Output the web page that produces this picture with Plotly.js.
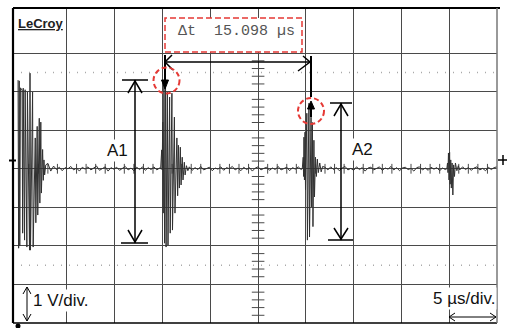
<!DOCTYPE html>
<html><head><meta charset="utf-8">
<script src="https://cdn.plot.ly/plotly-3.0.1.min.js"></script>
<style>html,body{margin:0;padding:0;background:#fff;overflow:hidden}#chart{width:509px;height:328px}</style>
</head><body><div id="chart"></div>
<script>
// ---- data (time in µs, amplitude in V) ----
const burst1T = [-0.12,-0.06,0.00,0.06,0.13,0.30,0.36,0.42,0.56,0.62,0.80,0.86,1.08,1.13,1.18,1.40,1.46,1.68,1.74,1.88,1.94,2.10,2.16,2.26,2.32,2.45,2.52,2.59,2.66,2.78];
const burst1V = [2.30,-2.06,2.28,-2.00,2.10,2.04,-1.67,2.09,-1.85,2.05,-2.03,1.99,-2.11,2.48,-2.11,1.99,-2.03,0.80,-1.40,1.10,-1.20,1.31,-0.89,1.21,-0.63,0.50,-0.30,0.23,-0.16,0.10];
const noise1T = [3.0,3.3,3.6,3.9,4.2,4.5,4.8,5.1,5.4,5.7,6.0,6.3,6.6,6.9,7.2,7.5,7.8,8.1,8.4,8.7,9.0,9.3,9.6,9.9,10.2,10.5,10.8,11.1,11.4,11.7,12.0,12.3,12.6,12.9,13.2,13.5,13.8,14.1,14.4,14.7];
const noise1V = [0.14,-0.06,0.07,-0.02,0.04,-0.05,0.03,0.00,0.06,-0.03,0.02,-0.06,0.04,-0.01,0.05,-0.03,0.02,0.07,-0.04,0.01,0.05,-0.06,0.03,-0.01,0.04,-0.04,0.02,0.06,-0.03,0.02,-0.05,0.04,-0.02,0.05,-0.04,0.03,-0.02,0.05,-0.03,0.02];
const burst2T = [14.80,14.91,14.96,15.02,15.07,15.15,15.21,15.31,15.37,15.50,15.57,15.74,15.80,15.98,16.04,16.24,16.30,16.50,16.58,16.66,16.76,16.86,16.94,17.06,17.14,17.28,17.36,17.50,17.65];
const burst2V = [0.00,0.49,-0.03,1.21,-1.15,2.22,-1.93,2.30,-2.03,1.99,-1.98,1.86,-1.67,1.96,-1.59,1.34,-1.15,0.80,-0.70,0.61,-0.50,0.56,-0.42,0.30,-0.29,0.17,-0.16,0.08,-0.05];
const noise2T = [17.8,18.1,18.4,18.7,19.0,19.3,19.6,19.9,20.2,20.5,20.8,21.1,21.4,21.7,22.0,22.3,22.6,22.9,23.2,23.5,23.8,24.1,24.4,24.7,25.0,25.3,25.6,25.9,26.2,26.5,26.8,27.1,27.4,27.7,28.0,28.3,28.6,28.9,29.2,29.5];
const noise2V = [0.05,-0.04,0.03,-0.02,0.06,-0.03,0.01,0.04,-0.05,0.02,-0.01,0.05,-0.04,0.03,0.00,0.06,-0.03,0.02,-0.05,0.04,-0.02,0.03,-0.06,0.02,0.05,-0.03,0.01,0.04,-0.04,0.02,-0.02,0.06,-0.03,0.01,0.04,-0.05,0.03,-0.01,0.05,-0.02];
const burst3T = [29.62,29.72,29.76,29.80,29.85,29.91,29.96,30.10,30.16,30.32,30.38,30.54,30.60,30.68,30.74,30.84,30.90,31.00,31.10,31.20,31.30,31.45,31.60,31.75];
const burst3V = [0.00,0.30,-0.20,0.82,-0.29,0.95,-0.55,1.44,-1.85,1.70,-1.77,1.34,-0.99,1.20,-1.50,0.74,-0.73,0.30,-0.20,0.25,-0.10,0.15,-0.08,0.06];
const noise3T = [32.0,32.3,32.6,32.9,33.2,33.5,33.8,34.1,34.4,34.7,35.0,35.3,35.6,35.9,36.2,36.5,36.8,37.1,37.4,37.7,38.0,38.3,38.6,38.9,39.2,39.5,39.8,40.1,40.4,40.7,41.0,41.3,41.6,41.9,42.2,42.5,42.8,43.1,43.4,43.7,44.0,44.3,44.6];
const noise3V = [0.04,-0.03,0.05,-0.02,0.03,-0.05,0.02,0.06,-0.03,0.01,-0.04,0.05,-0.02,0.03,-0.06,0.02,0.04,-0.03,0.01,0.05,-0.04,0.02,-0.01,0.06,-0.03,0.03,-0.05,0.02,0.04,-0.02,0.01,-0.06,0.03,0.05,-0.03,0.02,-0.04,0.04,-0.01,0.03,-0.05,0.02,-0.02];
const burst4T = [44.75,44.82,44.87,44.92,44.98,45.04,45.10,45.16,45.22,45.30,45.38,45.46,45.55,45.65,45.80,45.95];
const burst4V = [0.00,0.15,-0.10,0.41,-0.29,0.43,-0.40,0.23,-0.50,0.15,-0.68,0.10,-0.20,0.15,-0.05,0.08];
const noise4T = [46.1,46.4,46.7,47.0,47.3,47.6,47.9,48.2,48.5,48.8,49.1,49.4,49.7,50.0];
const noise4V = [-0.03,0.05,-0.02,0.03,-0.04,0.02,0.05,-0.03,0.01,-0.05,0.04,-0.02,0.03,0.05];

const deltaT = '15.098';
const voltsPerDiv = '1 V/div.';
const timePerDiv = '5 µs/div.';
const xGrid = [5,10,15,20,25,30,35,40,45];
const yGrid = [-3,-2,-1,0,1,2,3];

// ---- geometry helpers (decorations only) ----
const L=13,R=497,T=8,B=323;
const XR=[-0.65,50], YR=[-4.0,4.17];
const X = px => XR[0]+(px-L)/(R-L)*(XR[1]-XR[0]);
const Y = py => YR[1]-(py-T)/(B-T)*(YR[1]-YR[0]);
const PX = px => (px-L)/(R-L);
const PY = py => (B-py)/(B-T);

const traceT = [].concat(burst1T,noise1T,burst2T,noise2T,burst3T,noise3T,burst4T,noise4T);
const traceV = [].concat(burst1V,noise1V,burst2V,noise2V,burst3V,noise3V,burst4V,noise4V);

const vTickY=[]; for(let k=-19;k<=20;k++){ if(k%5!==0) vTickY.push(k/5); }
const hTickX=[]; for(let k=1;k<50;k++){ if(k%5!==0) hTickX.push(k); }

const GRID='#4a4a4a';
const data = [
  {x:vTickY.map(()=>25), y:vTickY, mode:'markers', type:'scatter', hoverinfo:'skip',
   marker:{symbol:'line-ew', size:9, line:{color:GRID, width:1}}},
  {x:hTickX, y:hTickX.map(()=>0), mode:'markers', type:'scatter', hoverinfo:'skip',
   marker:{symbol:'line-ns', size:7, line:{color:GRID, width:1}}},
  {x:traceT, y:traceV, mode:'lines', type:'scatter', line:{color:'#303030', width:1}, hoverinfo:'skip'}
];

const K='#000';
function seg(x0,y0,x1,y1,w,c){return {type:'line',xref:'x',yref:'y',x0:X(x0),y0:Y(y0),x1:X(x1),y1:Y(y1),line:{color:c||K,width:w||1.5}};}
function pth(pts,w,fill){let s=pts.map((p,i)=>(i?'L':'M')+X(p[0])+','+Y(p[1])).join(' ');if(fill)s+=' Z';
  return {type:'path',xref:'x',yref:'y',path:s,line:{color:K,width:w||1.5},fillcolor:fill?K:'rgba(0,0,0,0)'};}
function pseg(x0,y0,x1,y1,w,c){return {type:'line',xref:'paper',yref:'paper',x0:PX(x0),y0:PY(y0),x1:PX(x1),y1:PY(y1),line:{color:c||K,width:w||1.5}};}
const RED='#e53935';
function circ(cx,cy,r){return {type:'circle',xref:'x',yref:'y',xsizemode:'pixel',ysizemode:'pixel',xanchor:X(cx),yanchor:Y(cy),x0:-r,x1:r,y0:-r,y1:r,line:{color:RED,width:2,dash:'5px,3px'}};}

const shapes = [
  {type:'line',xref:'x',yref:'y',x0:XR[0],x1:XR[1],y0:2.5,y1:2.5,layer:'below',line:{color:'#aaa',width:1.5,dash:'1px,7px'}},
  {type:'line',xref:'x',yref:'y',x0:XR[0],x1:XR[1],y0:-2.5,y1:-2.5,layer:'below',line:{color:'#aaa',width:1.5,dash:'1px,7px'}},
  pseg(L,T,R+3,T,2.2), pseg(L,T,L,B,2.2), pseg(L,B,R,B,1.6), pseg(R,T,R,B,1.5,'#777'),
  {type:'rect',xref:'x',yref:'y',x0:X(165),x1:X(302),y0:Y(52),y1:Y(18),fillcolor:'#fff',line:{color:RED,width:1.5,dash:'6px,3px'}},
  seg(165,62,310,62,1.5), pth([[172,55],[165,62],[173,70]],1.5), pth([[303,56],[310,62],[298,71]],1.5),
  seg(165,55,165,82,2), pth([[161.5,80],[168.5,80],[165,89]],1,true),
  seg(311,56,311,97,2), seg(311,106,311,117,2), pth([[307.5,109],[314.5,109],[311,101]],1,true),
  circ(166.5,80.5,13), circ(311,111,13),
  seg(135,80,135,243,1.5), seg(122,80,148,80,1.5), seg(121,243,148,243,1.5),
  pth([[128,93],[135,81],[142,93]],1.5), pth([[128,230],[135,242],[142,230]],1.5),
  seg(341,103,341,240,1.5), seg(330,103,352,103,1.5), seg(328,240,353,240,1.5),
  pth([[334,116],[341,104],[348,116]],1.5), pth([[334,228],[341,239],[348,228]],1.5),
  seg(27,287,27,321,1), pth([[23,294],[27,287],[31,294]],1), pth([[23,314],[27,321],[31,314]],1),
  seg(449,317,496,317,1), pth([[455,313],[449,317],[455,321]],1), pth([[490,313],[496,317],[490,321]],1),
  pseg(9,160.5,16,160.5,2),
  pseg(498,160,507,160,1.5), pseg(503,155,503,165,1.5),
  {type:'circle',xref:'paper',yref:'paper',x0:PX(15.5),x1:PX(20.5),y0:PY(328.5),y1:PY(323.5),fillcolor:K,line:{color:K,width:0}}
];

const F='Liberation Sans, Arial, sans-serif';
const annotations = [
  {text:'<b><u>LeCroy</u></b>',xref:'paper',yref:'paper',x:PX(16),y:PY(23.5),xanchor:'left',yanchor:'middle',showarrow:false,font:{family:F,size:13,color:'#222'}},
  {text:'\u0394t\u00a0\u00a0'+deltaT+' \u00b5s',xref:'x',yref:'y',x:X(236),y:Y(31.5),xanchor:'center',yanchor:'middle',showarrow:false,font:{family:'Liberation Mono, DejaVu Sans Mono, monospace',size:15,color:'#555'}},
  {text:'A1',xref:'x',yref:'y',x:X(117.5),y:Y(150),xanchor:'center',yanchor:'middle',showarrow:false,bgcolor:'#fff',font:{family:F,size:17,color:'#111'}},
  {text:'A2',xref:'x',yref:'y',x:X(362),y:Y(149),xanchor:'center',yanchor:'middle',showarrow:false,bgcolor:'#fff',font:{family:F,size:17,color:'#111'}},
  {text:voltsPerDiv,xref:'x',yref:'y',x:X(31),y:Y(300),xanchor:'left',yanchor:'middle',showarrow:false,bgcolor:'#fff',font:{family:F,size:17,color:'#111'}},
  {text:timePerDiv,xref:'x',yref:'y',x:X(497),y:Y(298),xanchor:'right',yanchor:'middle',showarrow:false,bgcolor:'#fff',font:{family:F,size:17,color:'#111'}}
];

const layout = {
  width:509, height:328, margin:{l:L,r:509-R,t:T,b:328-B},
  paper_bgcolor:'#fff', plot_bgcolor:'#fff', showlegend:false,
  xaxis:{range:XR, tickvals:xGrid, showgrid:true, gridcolor:GRID, gridwidth:1, zeroline:false, showticklabels:false, ticks:'', showline:false, fixedrange:true},
  yaxis:{range:YR, tickvals:yGrid, showgrid:true, gridcolor:GRID, gridwidth:1, zeroline:false, showticklabels:false, ticks:'', showline:false, fixedrange:true},
  shapes:shapes, annotations:annotations
};
Plotly.newPlot('chart', data, layout, {staticPlot:true, displayModeBar:false});
</script></body></html>
